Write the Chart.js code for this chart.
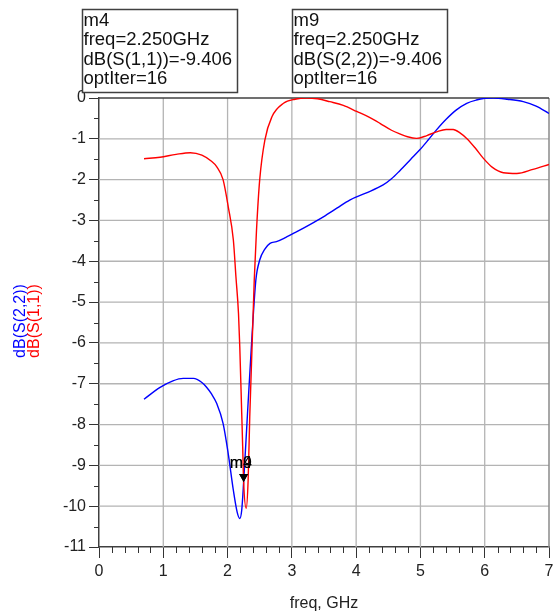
<!DOCTYPE html>
<html>
<head>
<meta charset="utf-8">
<title>dB(S(1,1)) and dB(S(2,2)) vs frequency</title>
<script src="https://cdn.jsdelivr.net/npm/chart.js@4.4.1/dist/chart.umd.min.js"></script>
<style>
  html, body { margin: 0; padding: 0; background: #ffffff; }
  canvas { display: block; }
</style>
</head>
<body>
<canvas id="plot" width="553" height="616"></canvas>
<script>
// Return loss of port 1, dB(S(1,1)), against frequency in GHz
const s11Freq = [0.70, 0.95, 1.20, 1.42, 1.60, 1.75, 1.83, 1.93, 2.01, 2.09, 2.13, 2.17, 2.19, 2.22, 2.235, 2.25, 2.29, 2.32, 2.345, 2.415, 2.45, 2.50, 2.58, 2.69, 2.87, 3.05, 3.23, 3.40, 3.59, 3.80, 4.01, 4.20, 4.37, 4.55, 4.68, 4.80, 4.94, 5.10, 5.25, 5.40, 5.51, 5.62, 5.72, 5.85, 5.98, 6.12, 6.29, 6.50, 6.75, 7.00];
const s11Db   = [-1.49, -1.45, -1.38, -1.34, -1.40, -1.55, -1.68, -2.00, -2.66, -3.48, -4.38, -5.28, -6.10, -7.72, -8.54, -9.406, -10.05, -9.36, -7.80, -4.46, -3.24, -2.00, -1.03, -0.46, -0.13, -0.03, 0.00, -0.02, -0.09, -0.18, -0.33, -0.47, -0.62, -0.79, -0.88, -0.95, -0.99, -0.92, -0.83, -0.77, -0.77, -0.86, -0.99, -1.22, -1.48, -1.70, -1.83, -1.85, -1.75, -1.63];

// Return loss of port 2, dB(S(2,2)), against frequency in GHz
const s22Freq = [0.70, 0.95, 1.15, 1.31, 1.47, 1.60, 1.67, 1.75, 1.83, 1.93, 2.01, 2.09, 2.15, 2.19, 2.22, 2.25, 2.31, 2.37, 2.44, 2.50, 2.58, 2.66, 2.76, 2.90, 3.07, 3.28, 3.49, 3.70, 3.90, 4.15, 4.42, 4.55, 4.68, 4.85, 4.99, 5.12, 5.25, 5.40, 5.56, 5.72, 5.87, 6.00, 6.13, 6.35, 6.60, 6.80, 7.00];
const s22Db   = [-7.38, -7.09, -6.93, -6.87, -6.87, -6.97, -7.08, -7.25, -7.48, -7.97, -8.71, -9.61, -10.15, -10.30, -10.10, -9.406, -7.73, -6.10, -4.46, -3.97, -3.70, -3.56, -3.52, -3.42, -3.28, -3.10, -2.91, -2.70, -2.50, -2.33, -2.13, -1.98, -1.78, -1.50, -1.27, -1.03, -0.78, -0.52, -0.29, -0.13, -0.05, -0.01, 0.00, -0.03, -0.09, -0.20, -0.38];

// Axis ticks
const freqTicks = [0, 1, 2, 3, 4, 5, 6, 7];
const dbTicks = [0, -1, -2, -3, -4, -5, -6, -7, -8, -9, -10, -11];

// Markers placed on both traces
const markerNames  = ['m4', 'm9'];
const markerTraces = ['dB(S(1,1))', 'dB(S(2,2))'];
const markerFreqs  = [2.250, 2.250];
const markerValues = [-9.406, -9.406];
const markerIter   = [16, 16];

const FONT = "'Liberation Sans', Arial, sans-serif";
const RED = '#ff0000';
const BLUE = '#0000ff';
const GRID = '#b4b4b4';

const toPoints = (xs, ys) => xs.map((x, i) => ({ x: x, y: ys[i] }));

const decorations = {
  id: 'decorations',
  beforeDatasetsDraw(chart) {
    // light grid on the plotting area
    const ctx = chart.ctx;
    const xs = chart.scales.x, ys = chart.scales.y;
    const area = chart.chartArea;
    ctx.save();
    ctx.strokeStyle = GRID;
    ctx.lineWidth = 1.3;
    ctx.beginPath();
    freqTicks.forEach(v => {
      if (v === 0 || v === 7) return;
      const px = xs.getPixelForValue(v);
      ctx.moveTo(px, area.top);
      ctx.lineTo(px, area.bottom);
    });
    dbTicks.forEach(v => {
      if (v === 0 || v === -11) return;
      const py = ys.getPixelForValue(v);
      ctx.moveTo(area.left, py);
      ctx.lineTo(area.right, py);
    });
    ctx.stroke();
    // right edge
    ctx.strokeStyle = '#8a8a8a';
    ctx.lineWidth = 1.5;
    ctx.beginPath();
    ctx.moveTo(area.right, area.top);
    ctx.lineTo(area.right, area.bottom);
    ctx.stroke();
    // darker top edge
    ctx.strokeStyle = '#404040';
    ctx.beginPath();
    ctx.moveTo(area.left, area.top);
    ctx.lineTo(area.right, area.top);
    ctx.stroke();
    ctx.restore();
  },
  afterDatasetsDraw(chart) {
    const ctx = chart.ctx;
    const xs = chart.scales.x, ys = chart.scales.y;
    // marker triangles with their names above
    markerNames.forEach((name, i) => {
      const px = xs.getPixelForValue(markerFreqs[i]);
      const py = ys.getPixelForValue(markerValues[i]);
      ctx.save();
      ctx.fillStyle = '#000000';
      ctx.beginPath();
      ctx.moveTo(px, py);
      ctx.lineTo(px - 4.5, py - 8);
      ctx.lineTo(px + 4.5, py - 8);
      ctx.closePath();
      ctx.fill();
      ctx.font = '16px ' + FONT;
      ctx.textBaseline = 'alphabetic';
      ctx.textAlign = 'left';
      ctx.fillText(name, px - 14, py - 13.5);
      ctx.restore();
    });
  },
  afterDraw(chart) {
    const ctx = chart.ctx;
    const xs = chart.scales.x, ys = chart.scales.y;
    const area = chart.chartArea;
    ctx.save();
    // minor ticks
    ctx.strokeStyle = '#333333';
    ctx.lineWidth = 1;
    ctx.beginPath();
    for (let k = 0; k <= 35; k++) {
      if (k % 5 === 0) continue;
      const px = Math.round(xs.getPixelForValue(k * 0.2)) + 0.5;
      ctx.moveTo(px, area.bottom);
      ctx.lineTo(px, area.bottom + 6);
    }
    for (let k = 1; k < 22; k += 2) {
      const py = Math.round(ys.getPixelForValue(-k * 0.5)) + 0.5;
      ctx.moveTo(area.left - 5, py);
      ctx.lineTo(area.left, py);
    }
    ctx.stroke();

    // x axis title
    ctx.fillStyle = '#222222';
    ctx.font = '16px ' + FONT;
    ctx.textAlign = 'center';
    ctx.textBaseline = 'alphabetic';
    ctx.fillText('freq, GHz', (area.left + area.right) / 2, 608);

    // y axis titles, one per trace, in trace colours
    ctx.save();
    ctx.translate(24.5, 321);
    ctx.rotate(-Math.PI / 2);
    ctx.fillStyle = BLUE;
    ctx.fillText('dB(S(2,2))', 0, 0);
    ctx.restore();
    ctx.save();
    ctx.translate(38.5, 321);
    ctx.rotate(-Math.PI / 2);
    ctx.fillStyle = RED;
    ctx.fillText('dB(S(1,1))', 0, 0);
    ctx.restore();

    // marker readout boxes
    const boxLefts = [82.5, 292.5];
    markerNames.forEach((name, i) => {
      const bx = boxLefts[i], by = 9.5, bw = 155, bh = 83;
      ctx.fillStyle = '#ffffff';
      ctx.fillRect(bx, by, bw, bh);
      ctx.strokeStyle = '#404040';
      ctx.lineWidth = 1.5;
      ctx.strokeRect(bx, by, bw, bh);
      ctx.fillStyle = '#111111';
      ctx.font = '18.5px ' + FONT;
      ctx.textAlign = 'left';
      ctx.textBaseline = 'alphabetic';
      const lines = [
        name,
        'freq=' + markerFreqs[i].toFixed(3) + 'GHz',
        markerTraces[i] + '=' + markerValues[i].toFixed(3),
        'optIter=' + markerIter[i]
      ];
      lines.forEach((t, j) => ctx.fillText(t, bx + 1, 25.5 + j * 19.5));
    });
    ctx.restore();
  }
};

new Chart(document.getElementById('plot'), {
  type: 'line',
  data: {
    datasets: [
      {
        label: 'dB(S(1,1))',
        data: toPoints(s11Freq, s11Db),
        borderColor: RED,
        borderWidth: 1.4,
        pointRadius: 0,
        fill: false,
        cubicInterpolationMode: 'monotone'
      },
      {
        label: 'dB(S(2,2))',
        data: toPoints(s22Freq, s22Db),
        borderColor: BLUE,
        borderWidth: 1.4,
        pointRadius: 0,
        fill: false,
        cubicInterpolationMode: 'monotone'
      }
    ]
  },
  options: {
    responsive: false,
    animation: false,
    devicePixelRatio: 1,
    layout: { padding: { top: 98, right: 4, left: 0, bottom: 0 } },
    plugins: {
      legend: { display: false },
      tooltip: { enabled: false }
    },
    scales: {
      x: {
        type: 'linear',
        min: 0,
        max: 7,
        afterFit: s => { s.height = 69; s.paddingLeft = 0; s.paddingRight = 0; },
        afterBuildTicks: s => { s.ticks = freqTicks.map(v => ({ value: v })); },
        ticks: {
          autoSkip: false,
          maxRotation: 0,
          padding: 4,
          color: '#222222',
          font: { family: FONT, size: 16 },
          callback: v => String(v)
        },
        grid: {
          drawOnChartArea: false,
          color: GRID,
          tickColor: '#333333',
          tickLength: 11,
          drawTicks: true
        },
        border: { color: '#404040', width: 1.5 }
      },
      y: {
        type: 'linear',
        min: -11,
        max: 0,
        afterFit: s => { s.width = 99; s.paddingTop = 0; s.paddingBottom = 0; },
        afterBuildTicks: s => { s.ticks = dbTicks.map(v => ({ value: v })); },
        ticks: {
          autoSkip: false,
          padding: 3,
          color: '#222222',
          font: { family: FONT, size: 16 },
          callback: v => String(v)
        },
        grid: {
          drawOnChartArea: false,
          color: GRID,
          tickColor: '#333333',
          tickLength: 10,
          drawTicks: true
        },
        border: { color: '#404040', width: 1.5 }
      }
    }
  },
  plugins: [decorations]
});
</script>
</body>
</html>
